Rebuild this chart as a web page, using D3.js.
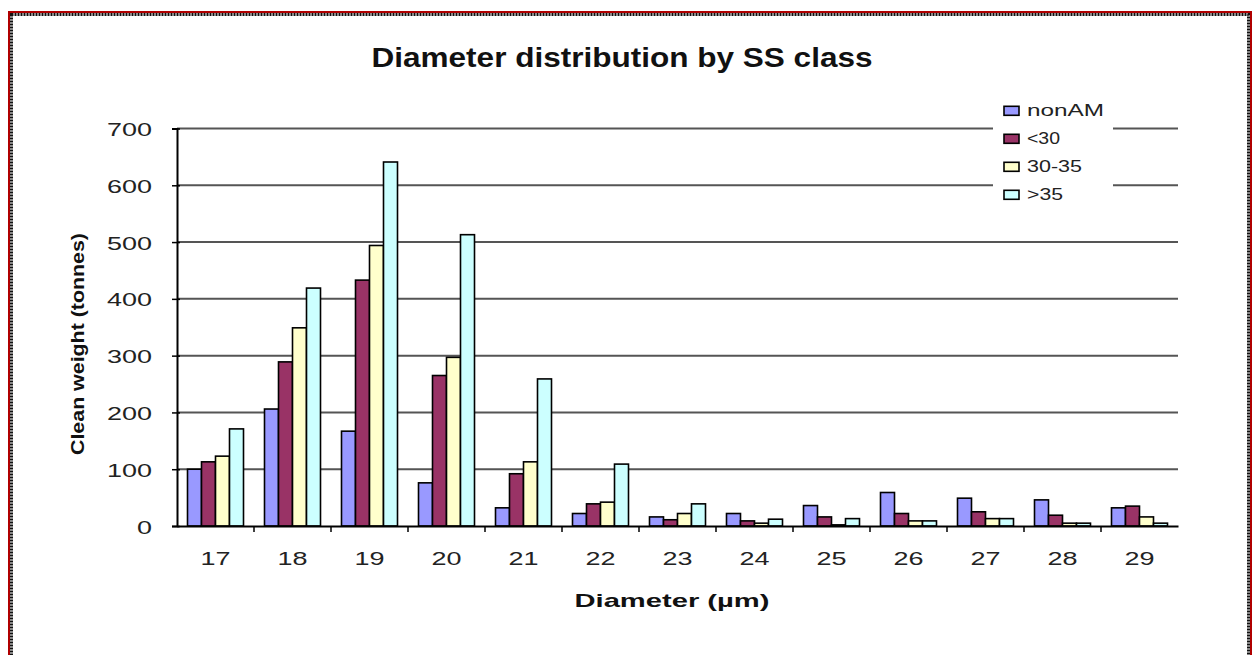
<!DOCTYPE html>
<html>
<head>
<meta charset="utf-8">
<script src="https://cdn.jsdelivr.net/npm/d3@7"></script>
<style>
  html, body { margin: 0; padding: 0; background: #fff; }
  svg { display: block; font-family: "Liberation Sans", Arial, sans-serif; }
</style>
</head>
<body>
<svg id="chart" width="1260" height="655"></svg>
<script>
// Diameter classes (µm)
const categories = ["17","18","19","20","21","22","23","24","25","26","27","28","29"];

// Clean weight (tonnes) per SS class
const seriesNames = ["nonAM", "<30", "30-35", ">35"];
const nonAM  = [100, 206, 167, 76, 32, 22, 16, 22, 36, 59, 49, 46, 32];
const lt30   = [113, 289, 433, 265, 92, 39, 11, 9, 16, 22, 25, 19, 35];
const r30_35 = [123, 349, 494, 297, 113, 42, 22, 5, 2, 9, 13, 5, 16];
const gt35   = [171, 419, 641, 513, 259, 109, 39, 12, 13, 9, 13, 5, 5];
const seriesColors = ["#9999ff", "#993366", "#ffffcc", "#ccffff"];

const yTicks = [0, 100, 200, 300, 400, 500, 600, 700];

const seriesValues = [nonAM, lt30, r30_35, gt35];
const rows = categories.map((c, i) => ({
  cat: c,
  values: seriesNames.map((s, j) => ({ key: s, value: seriesValues[j][i], color: seriesColors[j] }))
}));

const svg = d3.select("#chart");

// The chart's lettering is wide; stretch each label to its set width
function wide(sel, w) {
  sel.attr("textLength", w).attr("lengthAdjust", "spacingAndGlyphs");
  return sel;
}

// Outer frame
svg.append("rect")
  .attr("x", 9).attr("y", 12).attr("width", 1242).attr("height", 660)
  .attr("fill", "none").attr("stroke", "#b00000").attr("stroke-width", 2);
svg.append("rect")
  .attr("x", 11.5).attr("y", 14.5).attr("width", 1237).attr("height", 660)
  .attr("fill", "none").attr("stroke", "#111").attr("stroke-width", 3)
  .attr("stroke-dasharray", "2,1");

const plot = { left: 177, right: 1178, top: 128.5, bottom: 526 };

const x0 = d3.scaleBand().domain(categories).range([plot.left, plot.right]).paddingInner(0).paddingOuter(0);
const gap = x0.bandwidth() * 1.5 / 5.5;
const x1 = d3.scaleBand().domain(seriesNames).range([gap / 2, x0.bandwidth() - gap / 2]).padding(0);
const y = d3.scaleLinear().domain([0, 700]).range([plot.bottom, plot.top]);

// Title
wide(svg.append("text")
  .attr("x", 622).attr("y", 67)
  .attr("text-anchor", "middle")
  .attr("font-size", 28).attr("font-weight", "bold").attr("fill", "#111")
  .text("Diameter distribution by SS class"), 501);

// Horizontal gridlines
svg.append("g")
  .selectAll("line")
  .data(yTicks.filter(t => t > 0))
  .join("line")
  .attr("x1", plot.left).attr("x2", plot.right)
  .attr("y1", d => y(d)).attr("y2", d => y(d))
  .attr("stroke", "#555").attr("stroke-width", 2);

// Bars
const groups = svg.append("g")
  .selectAll("g")
  .data(rows)
  .join("g")
  .attr("transform", d => `translate(${x0(d.cat)},0)`);

groups.selectAll("rect")
  .data(d => d.values)
  .join("rect")
  .attr("x", d => x1(d.key))
  .attr("y", d => y(d.value))
  .attr("width", x1.bandwidth())
  .attr("height", d => y(0) - y(d.value))
  .attr("fill", d => d.color)
  .attr("stroke", "#000").attr("stroke-width", 1.6);

// Y axis
const yAxis = d3.axisLeft(y).tickValues(yTicks).tickSize(5).tickPadding(20).tickFormat(d3.format("d"));
const gy = svg.append("g").attr("transform", `translate(${plot.left},0)`).call(yAxis);
gy.select(".domain").attr("stroke", "#000").attr("stroke-width", 2);
gy.selectAll(".tick line").attr("stroke", "#000").attr("stroke-width", 1.5).attr("x2", -5).attr("x1", 3);
gy.selectAll(".tick text")
  .attr("font-size", 19).attr("fill", "#222").attr("dy", null).attr("y", 7)
  .attr("font-family", "Liberation Sans, Arial, sans-serif")
  .each(function (d) { wide(d3.select(this), String(d).length * 15); });

// X axis with ticks between categories
const xAxis = d3.axisBottom(x0).tickSize(0).tickPadding(0);
const gx = svg.append("g").attr("transform", `translate(0,${plot.bottom})`).call(xAxis);
gx.select(".domain").attr("stroke", "#000").attr("stroke-width", 2);
gx.selectAll(".tick text")
  .attr("font-size", 19).attr("fill", "#222").attr("dy", null).attr("y", 39)
  .attr("font-family", "Liberation Sans, Arial, sans-serif")
  .each(function (d) { wide(d3.select(this), String(d).length * 15); });
gx.append("g")
  .selectAll("line")
  .data(categories.slice(1))
  .join("line")
  .attr("x1", d => x0(d)).attr("x2", d => x0(d))
  .attr("y1", 0).attr("y2", 6)
  .attr("stroke", "#000").attr("stroke-width", 1.5);

// Axis titles
wide(svg.append("text")
  .attr("x", 672).attr("y", 607)
  .attr("text-anchor", "middle")
  .attr("font-size", 19).attr("font-weight", "bold").attr("fill", "#111")
  .text("Diameter (µm)"), 195);

wide(svg.append("text")
  .attr("transform", "translate(84,344) rotate(-90)")
  .attr("text-anchor", "middle")
  .attr("font-size", 18).attr("font-weight", "bold").attr("fill", "#111")
  .text("Clean weight (tonnes)"), 222);

// Legend
const legendWidths = [77, 33, 55, 36];
const legend = svg.append("g").attr("transform", "translate(993,98)");
legend.append("rect").attr("x", 0).attr("y", 0).attr("width", 120).attr("height", 112).attr("fill", "#fff");
const li = legend.selectAll("g")
  .data(seriesNames.map((s, i) => ({ key: s, color: seriesColors[i], w: legendWidths[i] })))
  .join("g")
  .attr("transform", (d, i) => `translate(11,${12.8 + i * 28})`);
li.append("rect")
  .attr("x", 0).attr("y", -4.5).attr("width", 15).attr("height", 9)
  .attr("fill", d => d.color).attr("stroke", "#000").attr("stroke-width", 1.6);
li.append("text")
  .attr("x", 23).attr("y", 5.5)
  .attr("font-size", 17).attr("fill", "#222")
  .text(d => d.key)
  .each(function (d) { wide(d3.select(this), d.w); });
</script>
</body>
</html>
